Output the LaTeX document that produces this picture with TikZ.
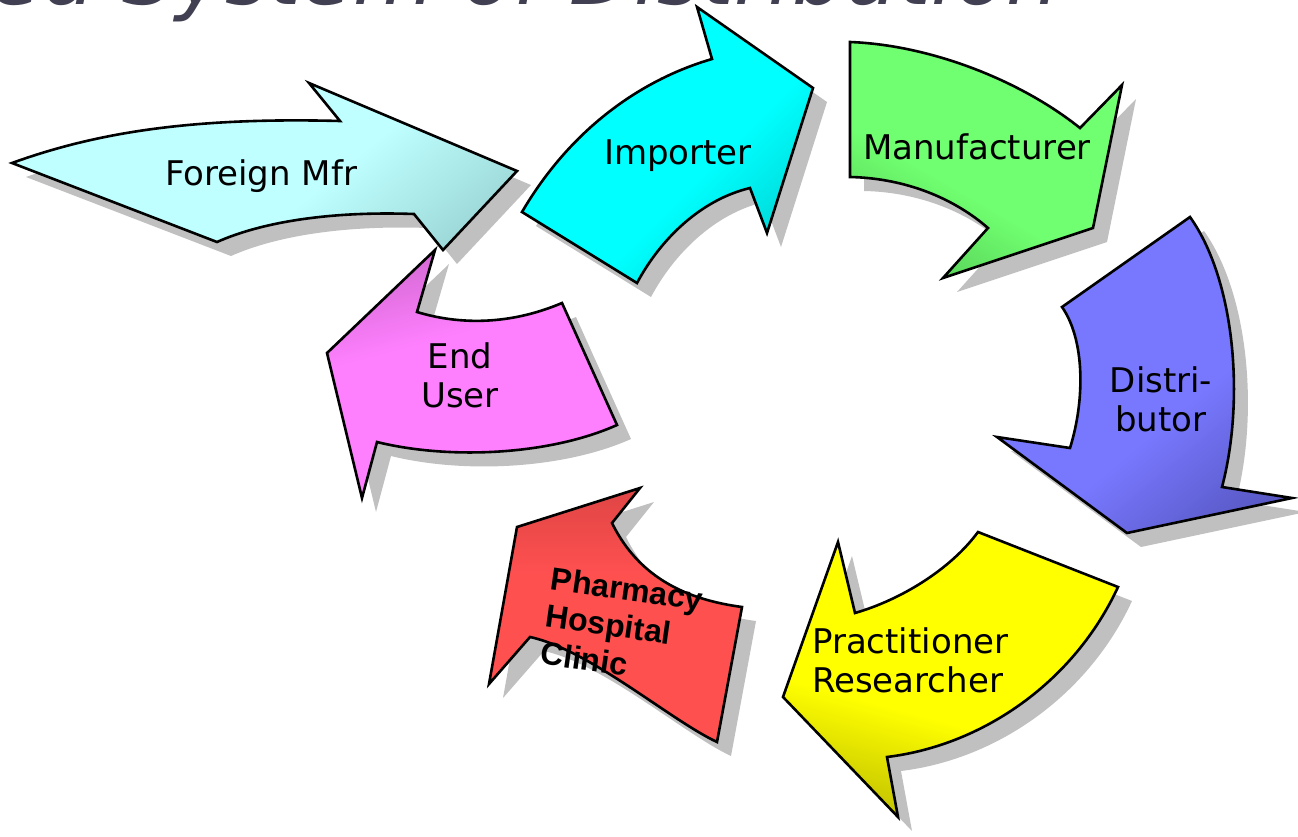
\documentclass[tikz,border=0pt]{standalone}
\usepackage{fontspec}
\setmainfont{DejaVu Sans}
\newfontfamily\rxfont{Liberation Sans}

\definecolor{fmfrlight}{HTML}{BFFFFF}
\definecolor{fmfrdark}{HTML}{78AEAE}
\definecolor{implight}{HTML}{00FFFF}
\definecolor{impdark}{HTML}{00A0A0}
\definecolor{mfrlight}{HTML}{70FF70}
\definecolor{mfrdark}{HTML}{3A963A}
\definecolor{distlight}{HTML}{7878FF}
\definecolor{distdark}{HTML}{38388A}
\definecolor{praclight}{HTML}{FFFF00}
\definecolor{pracdark}{HTML}{707000}
\definecolor{rxlight}{HTML}{FF5050}
\definecolor{rxdark}{HTML}{B03434}
\definecolor{userlight}{HTML}{FF80FF}
\definecolor{userdark}{HTML}{9A4A9A}
\definecolor{headgray}{HTML}{404052}
\definecolor{shadowgray}{HTML}{C0C0C0}

% light body that darkens towards one end
\colorlet{endlo}{black}
\colorlet{endhi}{white}
\pgfdeclareverticalshading[endlo,endhi]{endfade}{100bp}{color(0bp)=(endlo); color(42bp)=(endhi); color(100bp)=(endhi)}

% outlines of the curved block arrows (pixel units, y pointing down)
\newcommand{\shpForeign}{(12,163) .. controls (95,133) and (190,117) .. (340,121) -- (309,83) -- (517,171) -- (443,250) -- (414,214) .. controls (330,211) and (262,222) .. (217,242) -- cycle}
\newcommand{\shpImporter}{(522,212) .. controls (570,130) and (640,80) .. (712,59) -- (697,7) -- (813,88) -- (767,233) -- (750,188) .. controls (700,200) and (660,240) .. (637,283) -- cycle}
\newcommand{\shpMaker}{(850,42) .. controls (930,45) and (1020,80) .. (1080,128) -- (1122,85) -- (1093,228) -- (943,278) -- (988,228) .. controls (950,195) and (900,178) .. (850,177) -- cycle}
\newcommand{\shpDistrib}{(1190,217) .. controls (1235,280) and (1245,400) .. (1222,487) -- (1292,498) -- (1127,533) -- (997,437) -- (1070,448) .. controls (1085,400) and (1085,340) .. (1062,307) -- cycle}
\newcommand{\shpPractice}{(855,613) .. controls (900,600) and (950,570) .. (978,532) -- (1118,587) .. controls (1075,680) and (985,745) .. (887,757) -- (898,817) -- (783,697) -- (838,542) -- cycle}
\newcommand{\shpPharmacy}{(742,607) .. controls (690,600) and (640,580) .. (612,523) -- (640,488) -- (517,527) -- (489,684) -- (530,637) .. controls (590,650) and (670,720) .. (717,742) -- cycle}
\newcommand{\shpEndUser}{(435,250) -- (417,312) .. controls (460,325) and (510,325) .. (562,303) -- (617,425) .. controls (550,455) and (450,460) .. (377,442) -- (362,498) -- (327,353) -- cycle}

\begin{document}
\begin{tikzpicture}[
    x=1pt, y=-1pt,
    every node/.style={font=\fontsize{34}{39}\selectfont, inner sep=0pt, align=center},
    flow/.style={draw=black, line width=2.6pt, line join=miter},
    fade/.style n args={3}{/utils/exec={\colorlet{endlo}{#1}\colorlet{endhi}{#2}}, shading=endfade, shading angle=#3},
    dropshade/.style={fill=shadowgray, shift={(14,14)}},
    rxlabel/.style={font=\rxfont\bfseries\fontsize{32}{37.5}\selectfont, align=left, rotate=-8}
]
\useasboundingbox (0,0) rectangle (1298,836);

% --- heading, cut by the top edge ---
\node[anchor=base east, align=none, font=\itshape\fontsize{84}{84}\selectfont, text=headgray] (head) at (1060,4) {Closed System of Distribution};

% --- drop shadows ---
\foreach \shp in {\shpForeign,\shpImporter,\shpMaker,\shpDistrib,\shpPractice,\shpPharmacy,\shpEndUser}
    \fill[dropshade] \shp;

% --- flow arrows ---
\path[flow, fade={fmfrdark}{fmfrlight}{40}] \shpForeign;
\path[flow, fade={impdark}{implight}{45}] \shpImporter;
\path[flow, fade={mfrdark}{mfrlight}{-30}] \shpMaker;
\path[flow, fade={distdark}{distlight}{40}] \shpDistrib;
\path[flow, fade={pracdark}{praclight}{-15}] \shpPractice;
\path[flow, fade={rxdark}{rxlight}{180}] \shpPharmacy;
\path[flow, fade={userdark}{userlight}{195}] \shpEndUser;

% --- labels ---
\node[anchor=base] (fmfr) at (261,185) {Foreign Mfr};
\node[anchor=base] (imp) at (678,164) {Importer};
\node[anchor=base] (mfr) at (977,159) {Manufacturer};
\node (dist) at (1161,399) {Distri-\\butor};
\node[anchor=west, align=left] (prac) at (812,660) {Practitioner\\Researcher};
\node[rxlabel] (rx) at (622,626) {Pharmacy\\Hospital\\Clinic};
\node (user) at (460,375) {End\\User};
\end{tikzpicture}
\end{document}
